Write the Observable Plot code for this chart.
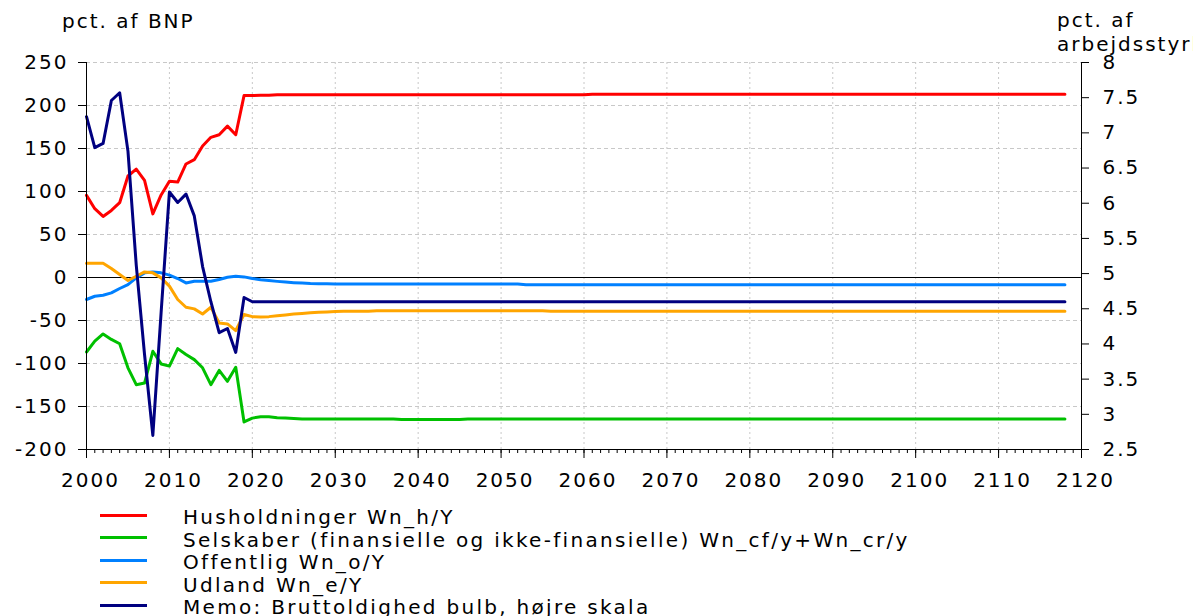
<!DOCTYPE html>
<html>
<head>
<meta charset="utf-8">
<script src="https://cdn.jsdelivr.net/npm/d3@7"></script>
<script src="https://cdn.jsdelivr.net/npm/@observablehq/plot@0.6"></script>
<style>
  html, body { margin: 0; padding: 0; background: #fff; }
  #chart svg { display: block; }
  #legend { font-family: "DejaVu Sans", sans-serif; font-size: 20px; letter-spacing: 2.3px; color: #000; padding-top: 4px; }
  #legend .row { display: flex; align-items: center; height: 22.5px; white-space: nowrap; }
  #legend .sw { margin-left: 100px; width: 47px; height: 3px; margin-right: 36px; flex: none; }
  #legend .label { position: relative; top: 2px; }
</style>
</head>
<body>
<div id="chart"></div>
<div id="legend"></div>
<script>
// Years covered by the series
const firstYear = 2000;

// Husholdninger, pct. af BNP (2000–2118)
const husholdninger = [
  95.5, 80, 71, 78, 87, 118, 126, 113, 74, 96,
  112, 111, 132, 137, 153, 163, 166, 176, 166, 211.5,
  211.5, 212, 212, 212.5, 212.5, 212.5, 212.5, 212.5, 212.5, 212.5,
  212.5, 212.5, 212.5, 212.5, 212.5, 212.5, 212.5, 212.5, 212.5, 212.5,
  212.5, 212.5, 212.5, 212.5, 212.5, 212.5, 212.5, 212.5, 212.5, 212.5,
  212.5, 212.5, 212.5, 212.5, 212.5, 212.5, 212.5, 212.5, 212.5, 212.5,
  212.5, 213, 213, 213, 213, 213, 213, 213, 213, 213,
  213, 213, 213, 213, 213, 213, 213, 213, 213, 213,
  213, 213, 213, 213, 213, 213, 213, 213, 213, 213,
  213, 213, 213, 213, 213, 213, 213, 213, 213, 213,
  213, 213, 213, 213, 213, 213, 213, 213, 213, 213,
  213, 213, 213, 213, 213, 213, 213, 213, 213
];

// Selskaber (finansielle og ikke-finansielle), pct. af BNP
const selskaber = [
  -86.6, -74, -65.6, -72, -77, -105, -124.6, -122.7, -85.8, -100.5,
  -103, -82.7, -89.6, -95.5, -105, -124.6, -108, -120.7, -104.4, -168,
  -163.5, -162, -162, -163, -163.5, -164, -164.5, -164.5, -164.5, -164.5,
  -164.5, -164.5, -164.5, -164.5, -164.5, -164.5, -164.5, -164.5, -165, -165,
  -165, -165, -165, -165, -165, -165, -164.5, -164.5, -164.5, -164.5,
  -164.5, -164.5, -164.5, -164.5, -164.5, -164.5, -164.5, -164.5, -164.5, -164.5,
  -164.5, -164.5, -164.5, -164.5, -164.5, -164.5, -164.5, -164.5, -164.5, -164.5,
  -164.5, -164.5, -164.5, -164.5, -164.5, -164.5, -164.5, -164.5, -164.5, -164.5,
  -164.5, -164.5, -164.5, -164.5, -164.5, -164.5, -164.5, -164.5, -164.5, -164.5,
  -164.5, -164.5, -164.5, -164.5, -164.5, -164.5, -164.5, -164.5, -164.5, -164.5,
  -164.5, -164.5, -164.5, -164.5, -164.5, -164.5, -164.5, -164.5, -164.5, -164.5,
  -164.5, -164.5, -164.5, -164.5, -164.5, -164.5, -164.5, -164.5, -164.5
];

// Offentlig, pct. af BNP
const offentlig = [
  -25.6, -21.8, -20.6, -17.9, -12.8, -8.2, -0.4, 5.4, 6.5, 5.4,
  2.7, -1.2, -6.3, -4.3, -4.3, -4.3, -2.3, 0.3, 1.5, 0.7,
  -1.2, -2.5, -3.5, -4.5, -5.3, -6, -6.5, -7, -7.2, -7.4,
  -7.5, -7.5, -7.5, -7.5, -7.5, -7.5, -7.5, -7.5, -7.5, -7.5,
  -7.5, -7.5, -7.5, -7.5, -7.5, -7.5, -7.5, -7.5, -7.5, -7.5,
  -7.5, -7.5, -7.5, -8.5, -8.5, -8.5, -8.5, -8.5, -8.5, -8.5,
  -8.5, -8.5, -8.5, -8.5, -8.5, -8.5, -8.5, -8.5, -8.5, -8.5,
  -8.5, -8.5, -8.5, -8.5, -8.5, -8.5, -8.5, -8.5, -8.5, -8.5,
  -8.5, -8.5, -8.5, -8.5, -8.5, -8.5, -8.5, -8.5, -8.5, -8.5,
  -8.5, -8.5, -8.5, -8.5, -8.5, -8.5, -8.5, -8.5, -8.5, -8.5,
  -8.5, -8.5, -8.5, -8.5, -8.5, -8.5, -8.5, -8.5, -8.5, -8.5,
  -8.5, -8.5, -8.5, -8.5, -8.5, -8.5, -8.5, -8.5, -8.5
];

// Udland, pct. af BNP
const udland = [
  16.6, 16.6, 16.6, 10.5, 3.5, -3.5, 1.5, 6.5, 5.4, -0.4,
  -10, -25.6, -34.6, -36.5, -42.4, -34.6, -52.8, -54, -61.7, -43,
  -45.5, -46, -45.5, -44.5, -43.5, -42.5, -41.8, -41, -40.5, -40,
  -39.6, -39.2, -39.2, -39.2, -39.2, -38.8, -38.8, -38.8, -38.8, -38.8,
  -38.8, -38.8, -38.8, -38.8, -38.8, -38.8, -38.8, -38.8, -38.8, -38.8,
  -38.8, -38.8, -38.8, -38.8, -38.8, -38.8, -39.3, -39.3, -39.3, -39.3,
  -39.3, -39.3, -39.3, -39.3, -39.3, -39.3, -39.3, -39.3, -39.3, -39.3,
  -39.3, -39.3, -39.3, -39.3, -39.3, -39.3, -39.3, -39.3, -39.3, -39.3,
  -39.3, -39.3, -39.3, -39.3, -39.3, -39.3, -39.3, -39.3, -39.3, -39.3,
  -39.3, -39.3, -39.3, -39.3, -39.3, -39.3, -39.3, -39.3, -39.3, -39.3,
  -39.3, -39.3, -39.3, -39.3, -39.3, -39.3, -39.3, -39.3, -39.3, -39.3,
  -39.3, -39.3, -39.3, -39.3, -39.3, -39.3, -39.3, -39.3, -39.3
];

// Memo: Bruttoldighed bulb, pct. af arbejdsstyrken (right scale)
const bruttoledighed = [
  7.23, 6.79, 6.85, 7.46, 7.57, 6.74, 5.12, 3.85, 2.70, 4.45,
  6.16, 6.01, 6.13, 5.82, 5.1, 4.6, 4.16, 4.22, 3.88, 4.66,
  4.6, 4.6, 4.6, 4.6, 4.6, 4.6, 4.6, 4.6, 4.6, 4.6,
  4.6, 4.6, 4.6, 4.6, 4.6, 4.6, 4.6, 4.6, 4.6, 4.6,
  4.6, 4.6, 4.6, 4.6, 4.6, 4.6, 4.6, 4.6, 4.6, 4.6,
  4.6, 4.6, 4.6, 4.6, 4.6, 4.6, 4.6, 4.6, 4.6, 4.6,
  4.6, 4.6, 4.6, 4.6, 4.6, 4.6, 4.6, 4.6, 4.6, 4.6,
  4.6, 4.6, 4.6, 4.6, 4.6, 4.6, 4.6, 4.6, 4.6, 4.6,
  4.6, 4.6, 4.6, 4.6, 4.6, 4.6, 4.6, 4.6, 4.6, 4.6,
  4.6, 4.6, 4.6, 4.6, 4.6, 4.6, 4.6, 4.6, 4.6, 4.6,
  4.6, 4.6, 4.6, 4.6, 4.6, 4.6, 4.6, 4.6, 4.6, 4.6,
  4.6, 4.6, 4.6, 4.6, 4.6, 4.6, 4.6, 4.6, 4.6
];

// Axis ticks
const leftTicks = [-200, -150, -100, -50, 0, 50, 100, 150, 200, 250];
const rightTicks = [2.5, 3, 3.5, 4, 4.5, 5, 5.5, 6, 6.5, 7, 7.5, 8];
const decadeTicks = [2000, 2010, 2020, 2030, 2040, 2050, 2060, 2070, 2080, 2090, 2100, 2110, 2120];

// Series names and colours, in legend order
const seriesNames = [
  "Husholdninger Wn_h/Y",
  "Selskaber (finansielle og ikke-finansielle) Wn_cf/y+Wn_cr/y",
  "Offentlig Wn_o/Y",
  "Udland Wn_e/Y",
  "Memo: Bruttoldighed bulb, højre skala"
];
const seriesColors = ["#ff0000", "#00c000", "#0080ff", "#ffa500", "#000080"];

// Left and right scale domains; the right scale is mapped onto the left one
const leftDomain = [-200, 250];
const rightDomain = [2.5, 8];
const toLeft = r => leftDomain[0] + (r - rightDomain[0]) * (leftDomain[1] - leftDomain[0]) / (rightDomain[1] - rightDomain[0]);
const toRight = l => rightDomain[0] + (l - leftDomain[0]) * (rightDomain[1] - rightDomain[0]) / (leftDomain[1] - leftDomain[0]);

const xDomain = [2000, 2120];
const allYears = d3.range(xDomain[0], xDomain[1] + 1);

function rows(values, conv = v => v) {
  return values.map((v, i) => ({year: firstYear + i, value: conv(v)}));
}
const seriesRows = [
  rows(husholdninger),
  rows(selskaber),
  rows(offentlig),
  rows(udland),
  rows(bruttoledighed, toLeft)
];

const gridColor = "#c8c8c8";

const plot = Plot.plot({
  width: 1193,
  height: 500,
  marginTop: 62,
  marginBottom: 51,
  marginLeft: 86,
  marginRight: 112,
  x: {domain: xDomain},
  y: {domain: leftDomain},
  style: {fontFamily: "DejaVu Sans, sans-serif", fontSize: "20px", letterSpacing: "2px", color: "#000", background: "#fff"},
  marks: [
    // grid
    Plot.ruleY(leftTicks.filter(v => v > leftDomain[0]), {x1: xDomain[0], x2: xDomain[1], stroke: gridColor, strokeDasharray: "4,3"}),
    Plot.ruleX(decadeTicks.filter(v => v > xDomain[0] && v < xDomain[1]), {y1: leftDomain[0], y2: leftDomain[1], stroke: gridColor, strokeDasharray: "2,3"}),
    // zero line
    Plot.ruleY([0], {x1: xDomain[0], x2: xDomain[1], stroke: "#000", strokeWidth: 1}),
    // series
    ...seriesRows.map((data, i) => Plot.line(data, {x: "year", y: "value", stroke: seriesColors[i], strokeWidth: 3})),
    // axis lines
    Plot.ruleY([leftDomain[0]], {x1: xDomain[0], x2: xDomain[1], stroke: "#000"}),
    Plot.ruleX([xDomain[0], xDomain[1]], {y1: leftDomain[0], y2: leftDomain[1], stroke: "#000"}),
    // left axis
    Plot.axisY({anchor: "left", ticks: leftTicks, tickSize: 8, tickPadding: 10, tickFormat: d => String(d), label: null}),
    // right axis
    Plot.axisY({anchor: "right", ticks: rightTicks.map(toLeft), tickSize: 7, tickPadding: 14,
      tickFormat: d => String(Math.round(toRight(d) * 10) / 10), label: null}),
    // x axis: yearly minor ticks, decade major ticks and labels
    Plot.axisX({ticks: allYears, tickSize: 4, tickFormat: () => "", label: null}),
    Plot.axisX({ticks: decadeTicks, tickSize: 9, tickFormat: () => "", label: null}),
    Plot.axisX({ticks: decadeTicks, tickSize: 0, tickPadding: 23, dx: 4, tickFormat: d => String(d), label: null})
  ]
});

// axis titles
const svg = d3.select(plot);
const titles = svg.append("g").attr("text-anchor", "start");
titles.append("text").attr("x", 62).attr("y", 28).text("pct. af BNP");
titles.append("text").attr("x", 1057).attr("y", 27).text("pct. af");
titles.append("text").attr("x", 1057).attr("y", 51).text("arbejdsstyrken");

document.getElementById("chart").appendChild(plot);

// legend
const legend = d3.select("#legend");
seriesNames.forEach((name, i) => {
  const row = legend.append("div").attr("class", "row");
  row.append("span").attr("class", "sw").style("background", seriesColors[i]);
  row.append("span").attr("class", "label").text(name);
});
</script>
</body>
</html>
